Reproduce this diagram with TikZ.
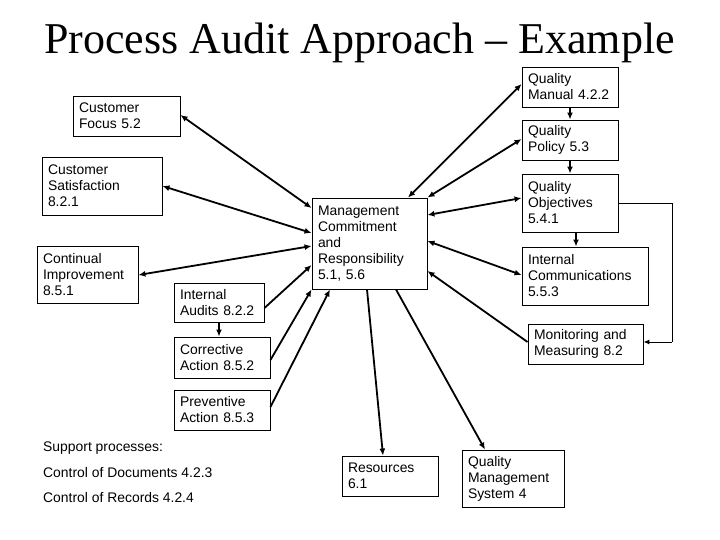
\documentclass[tikz,border=0pt]{standalone}
\usepackage{fontspec}
\setmainfont{Liberation Sans}
\newfontfamily\titlefont{Liberation Serif}
\usetikzlibrary{arrows.meta}
\tikzset{
  box/.style={draw, line width=0.9pt, rectangle, inner xsep=6pt, inner ysep=2pt, align=left,
    font=\fontsize{13.9}{16}\selectfont},
  conn/.style={line width=1.8pt},
  tip/.style={-{Latex[length=7pt,width=6pt]}},
  tips/.style={{Latex[length=7pt,width=6pt]}-{Latex[length=7pt,width=6pt]}},
  plain/.style={font=\fontsize{13.9}{16}\selectfont, inner sep=0pt, anchor=west}
}
\begin{document}
\begin{tikzpicture}[x=1pt,y=-1pt]
\useasboundingbox (0,0) rectangle (720,540);
\node[font=\titlefont\fontsize{44}{48}\selectfont, anchor=base, inner sep=0pt] (title) at (359.5,54) {Process Audit Approach – Example};

% boxes: center, width, height
\node[box, text width=95pt, minimum height=40pt] (cf) at (126.5,116) {Customer\\Focus 5.2};
\node[box, text width=108pt, minimum height=58pt] (cs) at (102,186) {Customer\\Satisfaction\\8.2.1};
\node[box, text width=89pt, minimum height=57pt] (ci) at (87.5,274.5) {Continual\\Improvement\\8.5.1};
\node[box, text width=78pt, minimum height=39pt] (ia) at (219,302.5) {Internal\\Audits 8.2.2};
\node[box, text width=103pt, minimum height=91pt] (mc) at (369.5,243.5) {Management\\Commitment\\and\\Responsibility\\5.1, 5.6};
\node[box, text width=84pt, minimum height=41pt] (ca) at (222,357.5) {Corrective\\Action 8.5.2};
\node[box, text width=84pt, minimum height=40pt] (pa) at (222,410) {Preventive\\Action 8.5.3};
\node[box, text width=84pt, minimum height=40pt] (res) at (390,476) {Resources\\6.1};
\node[box, text width=90pt, minimum height=57pt] (qms) at (513,478.5) {Quality\\Management\\System 4};
\node[box, text width=103pt, minimum height=40pt] (mm) at (585.5,344) {Monitoring and\\Measuring 8.2};
\node[box, text width=84pt, minimum height=40pt] (qm) at (570,87) {Quality\\Manual 4.2.2};
\node[box, text width=84pt, minimum height=40pt] (qp) at (570,140) {Quality\\Policy 5.3};
\node[box, text width=84pt, minimum height=58pt] (qo) at (570,203) {Quality\\Objectives\\5.4.1};
\node[box, text width=114pt, minimum height=58pt] (ic) at (585,276) {Internal\\Communications\\5.5.3};

\node[plain] (sp) at (43,448) {Support processes:};
\node[plain] (cd) at (43,473) {Control of Documents 4.2.3};
\node[plain] (cr) at (43,498) {Control of Records 4.2.4};

% connectors
\draw[conn,tips] (cf.east |- 0,115) -- (mc.west |- 0,208);
\draw[conn,tips] (cs.east |- 0,186) -- (mc.west |- 0,233);
\draw[conn,tips] (ci.east |- 0,275) -- (mc.west |- 0,246);
\draw[conn,tip] (ia.east |- 0,308) -- (mc.west |- 0,265);
\draw[conn,tip] (ca.east |- 0,360) -- (mc.south west);
\draw[conn,tip] (pa.east |- 0,407) -- (mc.south west -| 330,0);
\draw[conn,tip] (ia.south) -- (ca.north -| ia.south);
\draw[conn,tip] (mc.south west -| 367,0) -- (res.north -| 383,0);
\draw[conn,tip] (mc.south west -| 396,0) -- (qms.north -| 485,0);
\draw[conn,tip] (mm.west |- 0,342) -- (mc.east |- 0,271);
\draw[conn,tips] (qm.west |- 0,84) -- (mc.north west -| 408,0);
\draw[conn,tips] (qp.west |- 0,139) -- (mc.north east);
\draw[conn,tips] (qo.west |- 0,198) -- (mc.east |- 0,215);
\draw[conn,tips] (ic.west |- 0,275) -- (mc.east |- 0,241);
\draw[conn,tip] (qm.south) -- (qp.north);
\draw[conn,tip] (qp.south) -- (qo.north);
\draw[conn,tip] (qo.south -| 576,0) -- (ic.north -| 576,0);
\coordinate (c1) at (672,204);
\coordinate (c2) at (672,342);
\draw[line width=1pt] (qo.east |- c1) -- (c1) -- (c2);
\draw[line width=1pt, -{Latex[length=6pt,width=5pt]}] (c2) -- (mm.east |- c2);
\end{tikzpicture}
\end{document}
